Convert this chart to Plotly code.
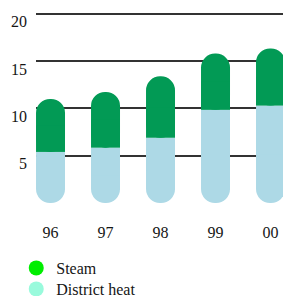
import plotly.graph_objects as go

years = ["96", "97", "98", "99", "00"]
district_heat = [5.4, 5.85, 6.9, 9.85, 10.3]
steam = [5.6, 5.9, 6.5, 5.95, 6.05]
y_ticks = [5, 10, 15, 20]

bar_green = "#029a55"
bar_blue = "#add9e6"
leg_green = "#00ee00"
leg_aqua = "#99fadc"
BW = 0.527

fig = go.Figure()
# District heat: pill shape from zero to its value, plus a flat-topped upper half
fig.add_trace(go.Bar(
    x=years, y=[-v for v in district_heat], base=district_heat,
    marker=dict(color=bar_blue, cornerradius="50%", line=dict(width=0)),
    width=BW, showlegend=False, hoverinfo="skip"))
fig.add_trace(go.Bar(
    x=years, y=[-v / 2 for v in district_heat], base=district_heat,
    marker=dict(color=bar_blue, cornerradius=0, line=dict(width=0)),
    width=BW, showlegend=False, hoverinfo="skip"))
# Steam: pill stacked on district heat, plus a flat-bottomed lower half
fig.add_trace(go.Bar(
    x=years, y=steam, base=district_heat,
    marker=dict(color=bar_green, cornerradius="50%", line=dict(width=0)),
    width=BW, showlegend=False, hoverinfo="skip"))
fig.add_trace(go.Bar(
    x=years, y=[v / 2 for v in steam], base=district_heat,
    marker=dict(color=bar_green, cornerradius=0, line=dict(width=0)),
    width=BW, showlegend=False, hoverinfo="skip"))

# legend entries
fig.add_trace(go.Scatter(x=[None], y=[None], mode="markers", name="Steam",
                         marker=dict(symbol="circle", size=15, color=leg_green),
                         legend="legend"))
fig.add_trace(go.Scatter(x=[None], y=[None], mode="markers", name="District heat",
                         marker=dict(symbol="circle", size=15, color=leg_aqua),
                         legend="legend2"))

font = "Liberation Serif"
txt = "#151515"
leg_common = dict(orientation="v", xanchor="left", yanchor="top",
                  font=dict(family=font, size=16, color=txt),
                  bgcolor="rgba(0,0,0,0)", borderwidth=0, itemclick=False)
fig.update_layout(
    width=283, height=296,
    margin=dict(l=36, r=0, t=12, b=93, autoexpand=False),
    barmode="overlay",
    plot_bgcolor="white", paper_bgcolor="white",
    font=dict(family=font, size=16, color=txt),
    showlegend=True,
    legend=dict(x=-0.08, y=-0.2513, **leg_common),
    legend2=dict(x=-0.08, y=-0.3613, **leg_common),
    xaxis=dict(type="category", range=[-0.264, 4.227], showgrid=False, showline=False,
               zeroline=False, ticks="", ticklabelstandoff=18,
               tickfont=dict(family=font, size=16, color=txt)),
    yaxis=dict(range=[0, 20.2], tickvals=y_ticks, ticktext=[str(v) for v in y_ticks],
               showgrid=True, gridcolor="#333333", gridwidth=1.5, zeroline=False,
               showline=False, ticks="", ticklabelshift=8, ticklabelstandoff=8,
               tickfont=dict(family=font, size=16, color=txt)),
)

fig.write_html("out.html", config={"displayModeBar": False},
               post_script="document.body.style.margin='0';document.body.style.overflow='hidden';")
